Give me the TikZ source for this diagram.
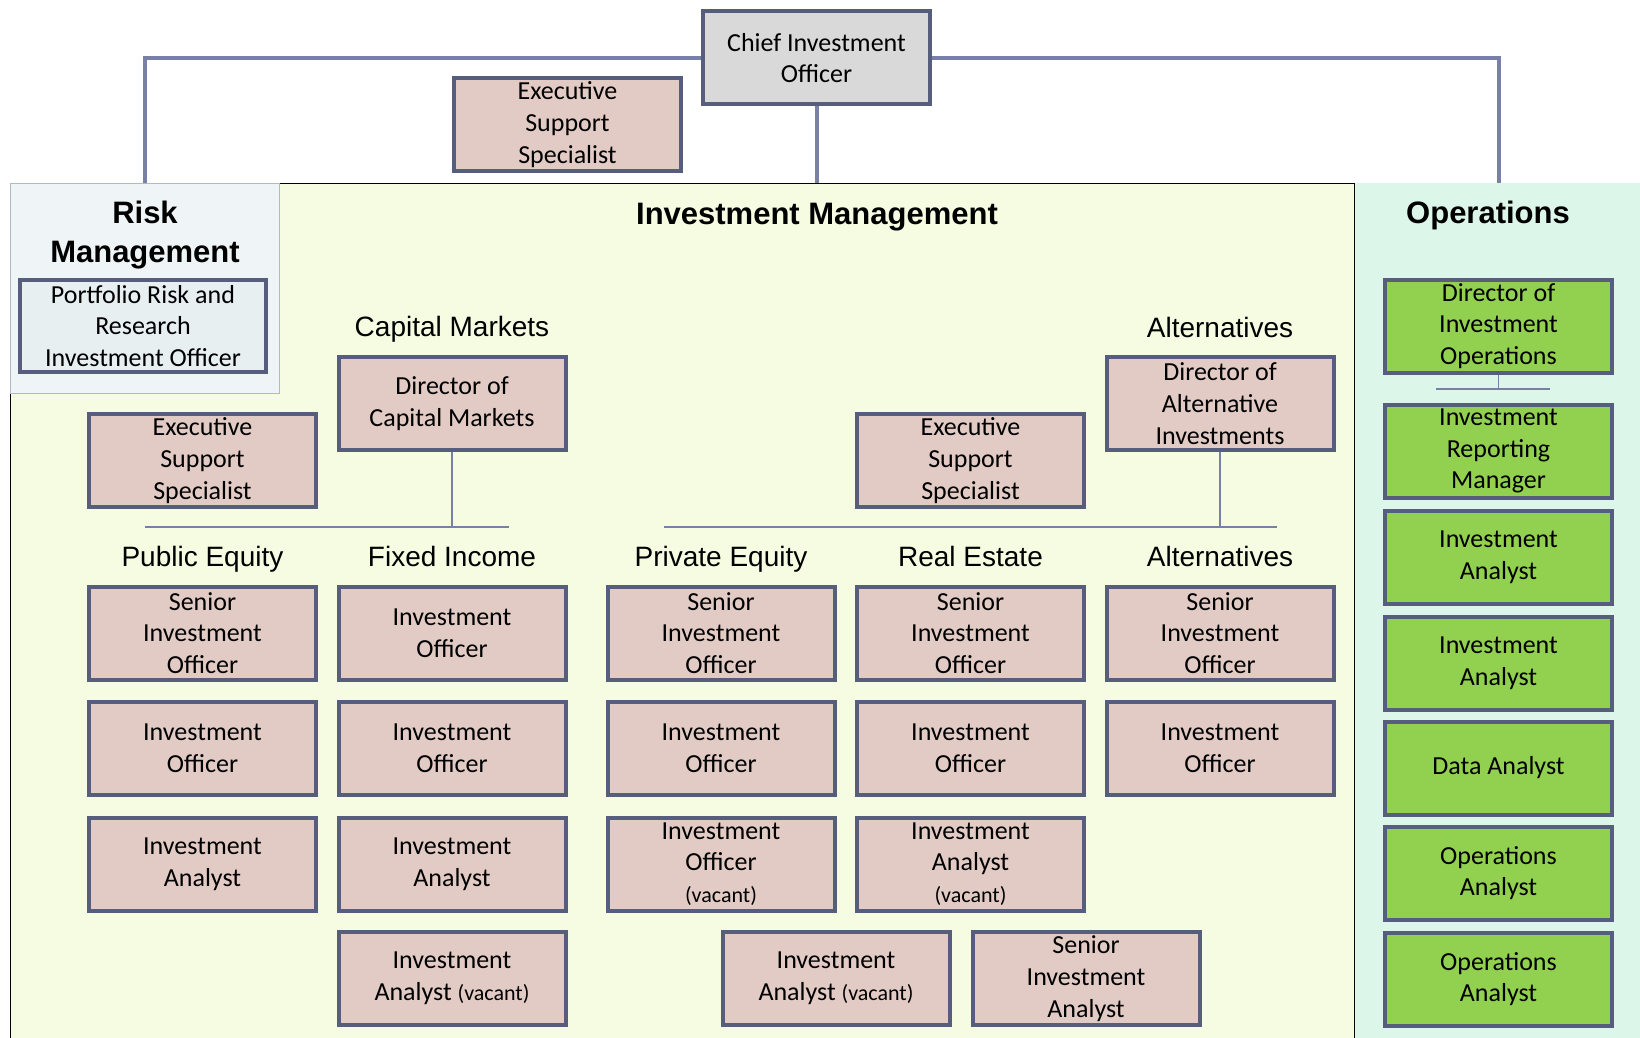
\documentclass[tikz,border=0pt]{standalone}
\usepackage{fontspec}
\setmainfont{Carlito}
\newfontfamily\headfont{Liberation Sans}
\usetikzlibrary{positioning}

\definecolor{boxpink}{HTML}{E2CBC4}
\definecolor{boxline}{HTML}{575E7D}
\definecolor{linkblue}{HTML}{7880A8}
\definecolor{opsgreen}{HTML}{92D050}
\definecolor{ciogray}{HTML}{D9D9D9}
\definecolor{imfill}{HTML}{F6FCE2}
\definecolor{opsfill}{HTML}{DCF6EA}
\definecolor{riskfill}{HTML}{EFF5F6}
\definecolor{prrfill}{HTML}{E7EFF1}

\tikzset{
  post/.style={draw=boxline, line width=4pt, fill=boxpink, minimum width=227pt,
    minimum height=93pt, align=center, inner sep=0pt,
    font=\fontsize{26}{31.8}\selectfont},
  opspost/.style={post, fill=opsgreen},
  title/.style={font=\headfont\bfseries\fontsize{31}{39}\selectfont, align=center, anchor=base},
  unitlabel/.style={font=\headfont\fontsize{28}{34}\selectfont, anchor=base},
  link/.style={draw=linkblue, line width=4pt},
  sublink/.style={draw=linkblue, line width=1.5pt},
}
\newcommand{\vac}{{\fontsize{22}{26}\selectfont(vacant)}}

\begin{document}
\begin{tikzpicture}[x=1pt, y=-1pt]
  \useasboundingbox (0,0) rectangle (1640,1038);

  % panels
  \fill[imfill] (10.5,183) rectangle (1354,1038);
  \draw[black, line width=0.8pt] (10.5,1038) -- (10.5,183) -- (1640,183);
  \fill[opsfill] (1354,183) rectangle (1640,1038);
  \draw[black, line width=0.8pt] (1354,183) -- (1354,1038);
  \draw[riskfill!60!boxline, fill=riskfill, line width=0.8pt] (10.5,183) rectangle (279,393);

  % titles
  \node[title, anchor=center] (risktitle) at (145,235) {Risk\\Management};
  \node[title] (imtitle) at (817,224) {Investment Management};
  \node[title] (opstitle) at (1488,223) {Operations};
  \node[unitlabel] (capital) at (452,336) {Capital Markets};
  \node[unitlabel] (alttop) at (1220,337) {Alternatives};
  \node[unitlabel] (pubeq) at (202.5,566) {Public Equity};
  \node[unitlabel] (fixinc) at (452,566) {Fixed Income};
  \node[unitlabel] (priveq) at (721,566) {Private Equity};
  \node[unitlabel] (realest) at (970.5,566) {Real Estate};
  \node[unitlabel] (altcol) at (1220,566) {Alternatives};

  % chief and lines to the three groups
  \coordinate (risktop) at (145,183);
  \coordinate (imtop) at (816.5,183);
  \coordinate (opstop) at (1499,183);
  \node[post, fill=ciogray] (cio) at (816.5,58) {Chief Investment\\Officer};
  \draw[link] (cio.west) -| (risktop);
  \draw[link] (cio.east) -| (opstop);
  \draw[link] (cio.south) -- (imtop);
  \node[post] (es0) at (567.5,124.5) {Executive\\Support\\Specialist};

  % risk
  \node[post, fill=prrfill, minimum width=246pt, minimum height=92pt] (prr) at (143,326)
    {Portfolio Risk and\\Research\\Investment Officer};

  % capital markets
  \node[post] (dcm) at (452,403.5) {Director of\\Capital Markets};
  \node[post] (es1) at (202.5,460.5) {Executive\\Support\\Specialist};
  \coordinate (capbarL) at (145,527);
  \coordinate (capbarR) at (509,527);
  \draw[sublink] (capbarL) -- (capbarR);
  \draw[sublink] (dcm.south) -- (dcm.south |- capbarR);

  % alternatives
  \node[post] (dai) at (1220,403.5) {Director of\\Alternative\\Investments};
  \node[post] (es2) at (970.5,460.5) {Executive\\Support\\Specialist};
  \coordinate (altbarL) at (664,527);
  \coordinate (altbarR) at (1277,527);
  \draw[sublink] (altbarL) -- (altbarR);
  \draw[sublink] (dai.south) -- (dai.south |- altbarR);

  % public equity
  \node[post] (pe1) at (202.5,633) {Senior\\Investment\\Officer};
  \node[post] (pe2) at (202.5,748) {Investment\\Officer};
  \node[post] (pe3) at (202.5,864) {Investment\\Analyst};

  % fixed income
  \node[post] (fi1) at (452,633) {Investment\\Officer};
  \node[post] (fi2) at (452,748) {Investment\\Officer};
  \node[post] (fi3) at (452,864) {Investment\\Analyst};
  \node[post] (fi4) at (452,978.5) {Investment\\Analyst \vac};

  % private equity
  \node[post] (pr1) at (721,633) {Senior\\Investment\\Officer};
  \node[post] (pr2) at (721,748) {Investment\\Officer};
  \node[post] (pr3) at (721,864) {Investment\\Officer\\\vac};
  \node[post] (pr4) at (836,978.5) {Investment\\Analyst \vac};

  % real estate
  \node[post] (re1) at (970.5,633) {Senior\\Investment\\Officer};
  \node[post] (re2) at (970.5,748) {Investment\\Officer};
  \node[post] (re3) at (970.5,864) {Investment\\Analyst\\\vac};
  \node[post] (re4) at (1086,978.5) {Senior\\Investment\\Analyst};

  % alternatives column
  \node[post] (al1) at (1220,633) {Senior\\Investment\\Officer};
  \node[post] (al2) at (1220,748) {Investment\\Officer};

  % operations
  \node[opspost] (dio) at (1498.5,326) {Director of\\Investment\\Operations};
  \node[opspost] (irm) at (1498.5,451) {Investment\\Reporting\\Manager};
  \node[opspost] (ops1) at (1498.5,557.5) {Investment\\Analyst};
  \node[opspost] (ops2) at (1498.5,663) {Investment\\Analyst};
  \node[opspost] (ops3) at (1498.5,768) {Data Analyst};
  \node[opspost] (ops4) at (1498.5,873) {Operations\\Analyst};
  \node[opspost] (ops5) at (1498.5,979) {Operations\\Analyst};
  \coordinate (opsbarL) at (1436,389);
  \coordinate (opsbarR) at (1550,389);
  \draw[sublink] (opsbarL) -- (opsbarR);
  \draw[sublink] (dio.south) -- (dio.south |- opsbarR);
\end{tikzpicture}
\end{document}
